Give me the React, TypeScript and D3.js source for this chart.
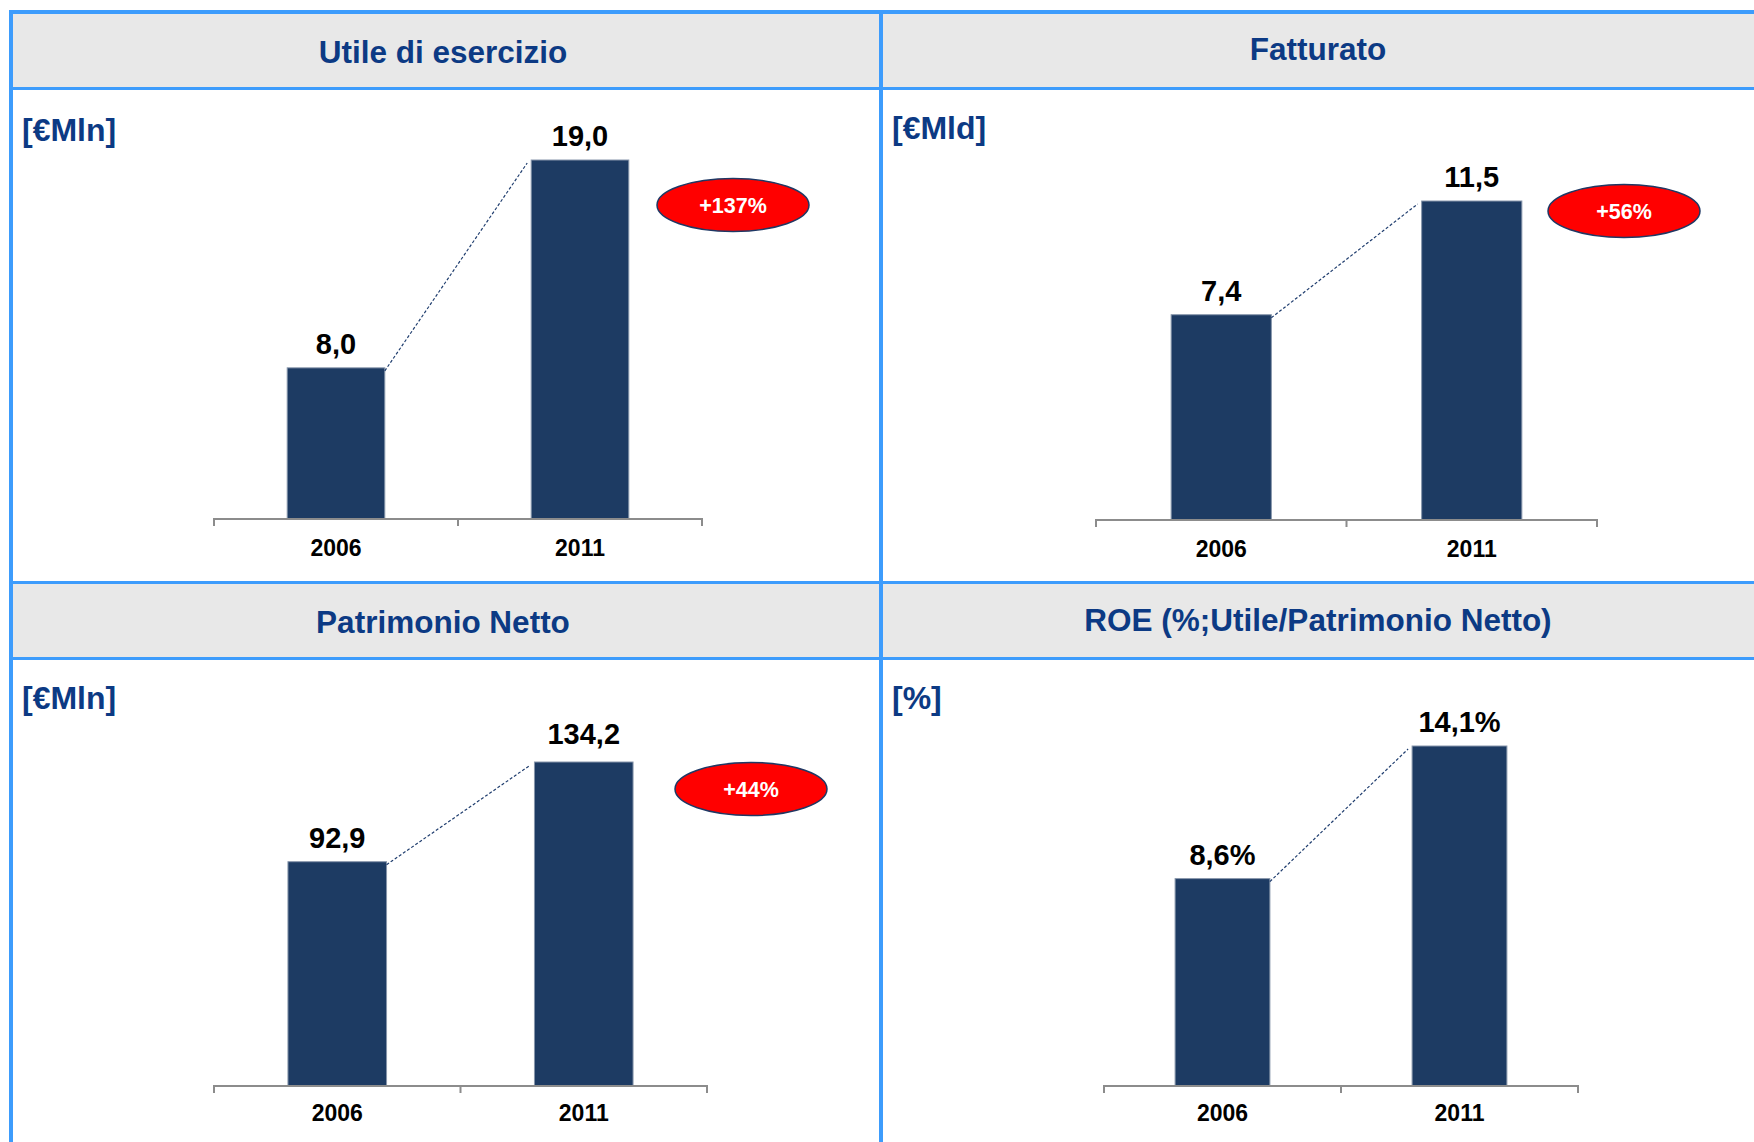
import React from "react";
import * as d3 from "d3";

// data
const years = ["2006", "2011"];
const utileValues = [8.0, 19.0];
const fatturatoValues = [7.4, 11.5];
const patrimonioValues = [92.9, 134.2];
const roeValues = [8.6, 14.1];
const panelTitles = ["Utile di esercizio", "Fatturato", "Patrimonio Netto", "ROE (%;Utile/Patrimonio Netto)"];
const unitLabels = ["[€Mln]", "[€Mld]", "[€Mln]", "[%]"];
const growthLabels = ["+137%", "+56%", "+44%", ""];
const valueSuffix = ["", "", "", "%"];

const W = 1754;
const H = 1142;
const BORDER = "#3d9cfc";
const TITLE_BLUE = "#0c3a84";
const BAR = "#1d3b63";
const FONT = "'Liberation Sans', Arial, Helvetica, sans-serif";

// layout of each panel (pixel positions, not data)
const panels = [
  { values: utileValues, x0: 214, x1: 702, base: 519, top: 160, titleX: 443, titleY: 63, unitX: 22, unitY: 141, ell: [733, 205] },
  { values: fatturatoValues, x0: 1096, x1: 1597, base: 520, top: 201, titleX: 1318, titleY: 60, unitX: 892, unitY: 139, ell: [1624, 211] },
  { values: patrimonioValues, x0: 214, x1: 707, base: 1086, top: 762, titleX: 443, titleY: 633, unitX: 22, unitY: 709, ell: [751, 789] },
  { values: roeValues, x0: 1104, x1: 1578, base: 1086, top: 746, titleX: 1318, titleY: 631, unitX: 892, unitY: 709, ell: null },
];

const fmt = (v: number) => d3.format(".1f")(v).replace(".", ",");

function Panel({ p, i }: { p: any; i: number }) {
  const x = d3.scaleBand().domain(years).range([p.x0, p.x1]).paddingInner(0.6).paddingOuter(0.3);
  const y = d3.scaleLinear().domain([0, d3.max(p.values) as number]).range([p.base, p.top]);
  const step = x.step();
  const bounds = [p.x0, p.x0 + step, p.x0 + 2 * step];
  const bw = x.bandwidth();
  const x1r = (x(years[0]) as number) + bw;
  const x2l = x(years[1]) as number;
  const y1 = y(p.values[0]);
  const y2 = y(p.values[1]);

  return (
    <g>
      <text x={p.titleX} y={p.titleY} textAnchor="middle" fontFamily={FONT} fontWeight="bold" fontSize={31.5} fill={TITLE_BLUE}>
        {panelTitles[i]}
      </text>
      <text x={p.unitX} y={p.unitY} fontFamily={FONT} fontWeight="bold" fontSize={32} fill={TITLE_BLUE}>
        {unitLabels[i]}
      </text>
      {years.map((yr, j) => (
        <rect key={yr} x={x(yr)} y={y(p.values[j])} width={bw} height={p.base - y(p.values[j])}
          fill={BAR} stroke="#8796ab" strokeWidth={1} />
      ))}
      <line x1={x1r} y1={y1 + 3} x2={x2l - 4} y2={y2 + 3} stroke="#1f3d6e" strokeWidth={1.2} strokeDasharray="3,2" />
      <path d={`M${bounds[0]},${p.base + 7}V${p.base}H${bounds[2]}V${p.base + 7}M${bounds[1]},${p.base}V${p.base + 7}`}
        fill="none" stroke="#8c8c8c" strokeWidth={2} />
      {years.map((yr, j) => (
        <g key={yr}>
          <text x={(x(yr) as number) + bw / 2} y={y(p.values[j]) - (j === 1 && i === 2 ? 18 : 14)} textAnchor="middle" fontFamily={FONT}
            fontWeight="bold" fontSize={29} fill="#000">
            {fmt(p.values[j]) + valueSuffix[i]}
          </text>
          <text x={(x(yr) as number) + bw / 2} y={p.base + (i >= 2 ? 35 : 37)} textAnchor="middle" fontFamily={FONT}
            fontWeight="bold" fontSize={23} fill="#000">
            {yr}
          </text>
        </g>
      ))}
      {p.ell && growthLabels[i] && (
        <g>
          <ellipse cx={p.ell[0]} cy={p.ell[1]} rx={76} ry={26.5} fill="#ff0000" stroke="#1f3864" strokeWidth={1.5} />
          <text x={p.ell[0]} y={p.ell[1] + 7.5} textAnchor="middle" fontFamily={FONT} fontWeight="bold" fontSize={21.5} fill="#fff">
            {growthLabels[i]}
          </text>
        </g>
      )}
    </g>
  );
}

export default function App() {
  return (
    <svg width={W} height={H} style={{ position: "absolute", left: 0, top: 0, background: "#fff" }}>
      <rect x={0} y={0} width={W} height={H} fill="#fff" />
      {/* header bands */}
      <rect x={12} y={14} width={W - 12} height={73} fill="#e8e8e8" />
      <rect x={12} y={584} width={W - 12} height={73} fill="#e8e8e8" />
      {/* grid lines */}
      <rect x={10} y={10} width={W - 10} height={4} fill={BORDER} />
      <rect x={10} y={87} width={W - 10} height={3} fill={BORDER} />
      <rect x={10} y={581} width={W - 10} height={3} fill={BORDER} />
      <rect x={10} y={657} width={W - 10} height={3} fill={BORDER} />
      <rect x={9} y={10} width={4} height={H - 10} fill={BORDER} />
      <rect x={879} y={10} width={4} height={H - 10} fill={BORDER} />
      {panels.map((p, i) => (
        <Panel key={i} p={p} i={i} />
      ))}
    </svg>
  );
}
